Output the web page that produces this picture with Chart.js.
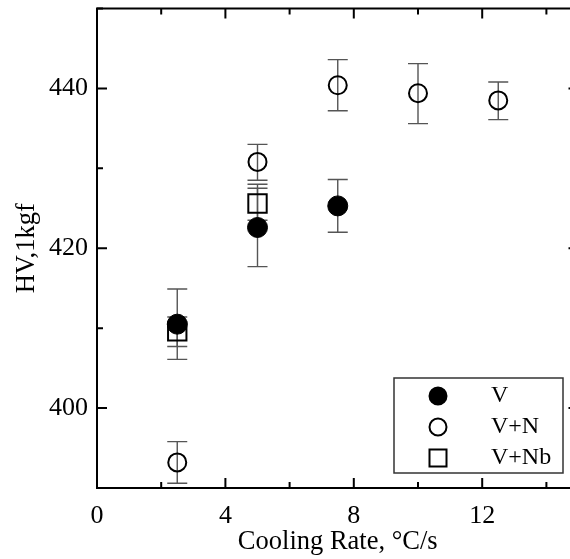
<!DOCTYPE html>
<html lang="en">
<head>
<meta charset="UTF-8" />
<title>HV vs cooling rate</title>
<script src="https://cdn.jsdelivr.net/npm/chart.js@4.4.1/dist/chart.umd.min.js"></script>
<style>
  html, body { margin: 0; padding: 0; background: #fff; overflow: hidden; }
  #wrap { width: 590px; }
  #chart { display: block; }
</style>
</head>
<body>
<div id="wrap"><canvas id="chart" width="590" height="559"></canvas></div>
<script>
// cooling rate (°C/s) and hardness values
const xV = [2.5, 5, 7.5];
const hvV = [410.5, 422.6, 425.3];
const hiV = [414.9, 427.5, 428.6];
const loV = [406.1, 417.7, 422.0];

const xVN = [2.5, 5, 7.5, 10, 12.5];
const hvVN = [393.2, 430.8, 440.4, 439.4, 438.5];
const hiVN = [395.8, 433.0, 443.6, 443.1, 440.8];
const loVN = [390.6, 428.5, 437.2, 435.6, 436.1];

const xVNb = [2.5, 5];
const hvVNb = [409.6, 425.6];
const hiVNb = [411.4, 428.0];
const loVNb = [407.7, 423.5];

const seriesLabels = ['V', 'V+N', 'V+Nb'];
const xTickLabels = [0, 4, 8, 12];
const yTickLabels = [400, 420, 440];

const FONT = 'Liberation Serif';
const PLOT_TOP = 9;

function pts(xs, ys, hi, lo) {
  return xs.map((x, i) => ({ x: x, y: ys[i], hi: hi[i], lo: lo[i] }));
}

// error bars go behind the markers
const errorBars = {
  id: 'errorBars',
  beforeDatasetsDraw(chart) {
    const { ctx, scales: { x, y } } = chart;
    ctx.save();
    ctx.strokeStyle = '#555';
    ctx.lineWidth = 1.4;
    chart.data.datasets.forEach((ds) => {
      ds.data.forEach((p) => {
        const px = x.getPixelForValue(p.x);
        const top = y.getPixelForValue(p.hi);
        const bot = y.getPixelForValue(p.lo);
        ctx.beginPath();
        ctx.moveTo(px, top); ctx.lineTo(px, bot);
        ctx.moveTo(px - 10, top); ctx.lineTo(px + 10, top);
        ctx.moveTo(px - 10, bot); ctx.lineTo(px + 10, bot);
        ctx.stroke();
      });
    });
    ctx.restore();
  }
};

// box frame with inward ticks on all four sides
const frame = {
  id: 'frame',
  afterDraw(chart) {
    const { ctx, chartArea: a, scales: { x, y } } = chart;
    ctx.save();
    ctx.strokeStyle = '#000';
    ctx.lineWidth = 2;
    ctx.strokeRect(a.left, a.top, a.right - a.left, a.bottom - a.top);
    ctx.beginPath();
    x.ticks.forEach((t) => {
      const px = x.getPixelForValue(t.value);
      const len = xTickLabels.includes(t.value) ? 10 : 6;
      ctx.moveTo(px, a.bottom); ctx.lineTo(px, a.bottom - len);
      ctx.moveTo(px, a.top); ctx.lineTo(px, a.top + len);
    });
    y.ticks.forEach((t) => {
      const py = y.getPixelForValue(t.value);
      const len = yTickLabels.includes(t.value) ? 10 : 6;
      ctx.moveTo(a.left, py); ctx.lineTo(a.left + len, py);
      ctx.moveTo(a.right, py); ctx.lineTo(a.right - len, py);
    });
    ctx.stroke();
    ctx.restore();
  }
};

// boxed legend in the lower right corner (positions relative to plot bottom)
const boxLegend = {
  id: 'boxLegend',
  afterDraw(chart) {
    const { ctx, chartArea: a } = chart;
    const top = a.bottom - 110;
    ctx.save();
    ctx.fillStyle = '#fff';
    ctx.fillRect(394, top, 169, 95);
    ctx.strokeStyle = '#333';
    ctx.lineWidth = 1.5;
    ctx.strokeRect(394, top, 169, 95);
    ctx.font = '24px "' + FONT + '"';
    ctx.textBaseline = 'middle';
    chart.data.datasets.forEach((ds, i) => {
      const cy = top + 18 + i * 31;
      ctx.fillStyle = ds.pointBackgroundColor;
      ctx.strokeStyle = '#000';
      ctx.lineWidth = 2;
      ctx.beginPath();
      if (ds.pointStyle === 'rect') {
        ctx.rect(438 - 8.5, cy - 8.5, 17, 17);
      } else {
        ctx.arc(438, cy, 8.5, 0, Math.PI * 2);
      }
      ctx.fill();
      ctx.stroke();
      ctx.fillStyle = '#000';
      ctx.fillText(ds.label, 491, cy);
    });
    ctx.restore();
  }
};

function makeConfig() {
  return {
    type: 'scatter',
    data: {
      datasets: [
        {
          label: seriesLabels[0],
          data: pts(xV, hvV, hiV, loV),
          pointStyle: 'circle',
          pointRadius: 10,
          pointBackgroundColor: '#000',
          pointBorderColor: '#000',
          pointBorderWidth: 1
        },
        {
          label: seriesLabels[1],
          data: pts(xVN, hvVN, hiVN, loVN),
          pointStyle: 'circle',
          pointRadius: 9,
          pointBackgroundColor: 'rgba(0,0,0,0)',
          pointBorderColor: '#000',
          pointBorderWidth: 2
        },
        {
          label: seriesLabels[2],
          data: pts(xVNb, hvVNb, hiVNb, loVNb),
          pointStyle: 'rect',
          pointRadius: 13,
          pointBackgroundColor: 'rgba(0,0,0,0)',
          pointBorderColor: '#000',
          pointBorderWidth: 2
        }
      ]
    },
    options: {
      responsive: false,
      animation: false,
      layout: { autoPadding: false, padding: { left: 0, top: PLOT_TOP, right: 11.5, bottom: 0 } },
      plugins: { legend: { display: false }, tooltip: { enabled: false } },
      scales: {
        x: {
          type: 'linear',
          min: 0,
          max: 15,
          grid: { display: false, drawTicks: false },
          border: { display: false },
          afterFit(s) { s.height = 71; },
          ticks: {
            stepSize: 2,
            includeBounds: false,
            autoSkip: false,
            maxRotation: 0,
            padding: 13,
            color: '#000',
            font: { family: FONT, size: 26 },
            callback: (v) => (xTickLabels.includes(v) ? String(v) : '')
          },
          title: {
            display: true,
            text: 'Cooling Rate, °C/s',
            color: '#000',
            font: { family: FONT, size: 26.5 },
            padding: { top: 0, bottom: 1 }
          }
        },
        y: {
          type: 'linear',
          min: 390,
          max: 450,
          grid: { display: false, drawTicks: false },
          border: { display: false },
          afterFit(s) { s.width = 97; },
          ticks: {
            stepSize: 10,
            includeBounds: false,
            autoSkip: false,
            padding: 9,
            color: '#000',
            font: { family: FONT, size: 26, lineHeight: 0.5 },
            callback: (v) => (yTickLabels.includes(v) ? String(v) : '')
          },
          title: {
            display: true,
            text: 'HV,1kgf',
            color: '#000',
            font: { family: FONT, size: 26.5 },
            padding: { top: 11, bottom: 0 }
          }
        }
      }
    },
    plugins: [errorBars, frame, boxLegend]
  };
}

const canvas = document.getElementById('chart');
let chart = new Chart(canvas, makeConfig());

// the layout keeps some extra room above the plot; rebuild on a taller canvas
// pulled up by that amount so the plot box sits where the original one does
const extra = Math.round(chart.chartArea.top - PLOT_TOP);
if (extra > 0) {
  chart.destroy();
  canvas.width = 590;
  canvas.height = 559 + extra;
  canvas.style.width = '590px';
  canvas.style.height = (559 + extra) + 'px';
  canvas.style.marginTop = (-extra) + 'px';
  chart = new Chart(canvas, makeConfig());
}
</script>
</body>
</html>
